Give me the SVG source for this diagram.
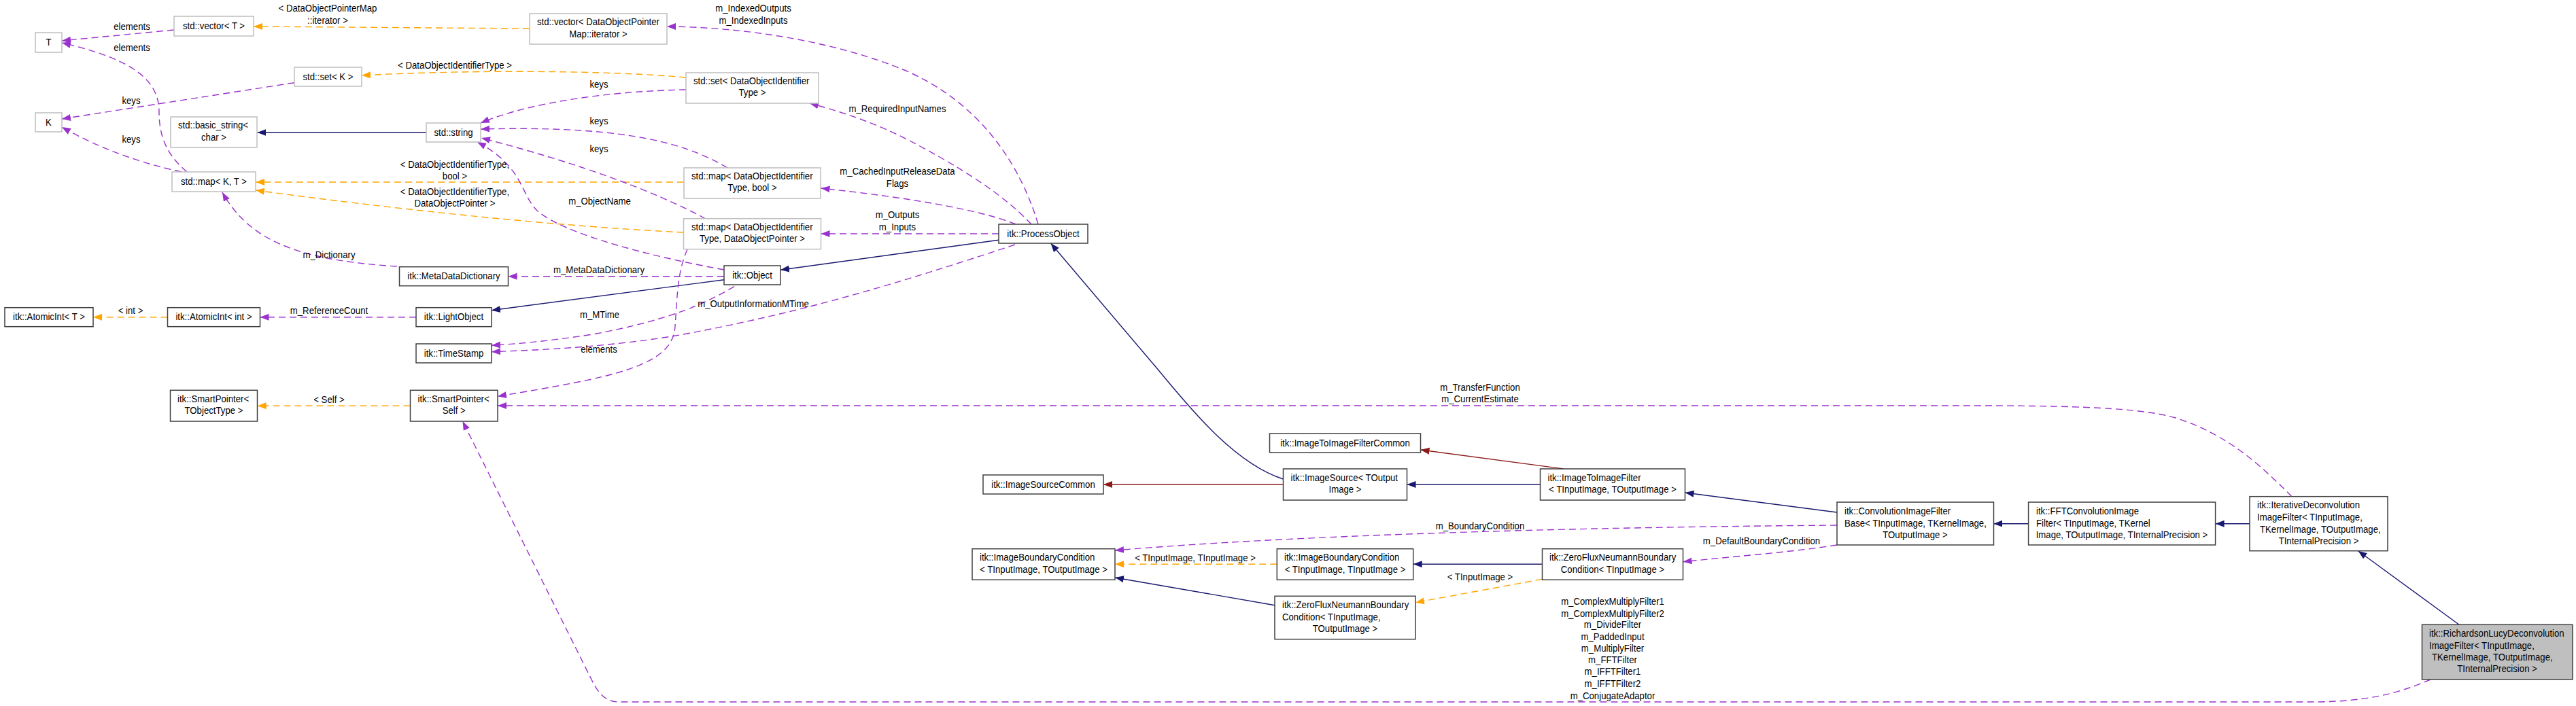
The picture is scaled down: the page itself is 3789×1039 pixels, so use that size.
<svg xmlns="http://www.w3.org/2000/svg" width="3789" height="1039" viewBox="0 0 3789 1039">
<style>
text{font-family:"Liberation Sans",Arial,sans-serif;font-size:14.5px;fill:#000;transform-box:fill-box;transform-origin:left center;transform:scale(0.91,1)}
.c{text-anchor:middle;transform-origin:center}
.bx{fill:#fff;stroke:#404040;stroke-width:1.5}
.gr{fill:#fff;stroke:#bfbfbf;stroke-width:1.5}
.hl{fill:#bfbfbf;stroke:#404040;stroke-width:1.5}
.e{fill:none;stroke-width:1.4}
.inh{stroke:#191970;marker-end:url(#mInh)}
.prv{stroke:#8b1a1a;marker-end:url(#mPrv)}
.use{stroke:#9a32cd;stroke-dasharray:10,6;marker-end:url(#mUse)}
.tpl{stroke:#ffa500;stroke-dasharray:10,6;marker-end:url(#mTpl)}
</style>
<defs>
<marker id="mInh" markerUnits="userSpaceOnUse" markerWidth="14" markerHeight="12" viewBox="0 0 14 12" refX="13" refY="6" orient="auto"><path d="M0,1 L13,6 L0,11 z" fill="#191970"/></marker>
<marker id="mPrv" markerUnits="userSpaceOnUse" markerWidth="14" markerHeight="12" viewBox="0 0 14 12" refX="13" refY="6" orient="auto"><path d="M0,1 L13,6 L0,11 z" fill="#8b1a1a"/></marker>
<marker id="mUse" markerUnits="userSpaceOnUse" markerWidth="14" markerHeight="12" viewBox="0 0 14 12" refX="13" refY="6" orient="auto"><path d="M0,1 L13,6 L0,11 z" fill="#9a32cd"/></marker>
<marker id="mTpl" markerUnits="userSpaceOnUse" markerWidth="14" markerHeight="12" viewBox="0 0 14 12" refX="13" refY="6" orient="auto"><path d="M0,1 L13,6 L0,11 z" fill="#ffa500"/></marker>
</defs>
<rect x="0" y="0" width="3789" height="1039" fill="#fff"/>

<g id="connectors">
<path class="e use" d="M256,44 L91,60"/>
<path class="e use" d="M275,253 C245,228 234,200 234,165 C234,120 200,88 91,63"/>
<path class="e use" d="M433,121.7 L91,175"/>
<path class="e use" d="M267,253 Q170,232 91,187"/>
<path class="e inh" d="M627,195 L378.4,195"/>
<path class="e tpl" d="M779,42 L373,39"/>
<path class="e tpl" d="M1009,114 C900,104 700,102 532,111"/>
<path class="e tpl" d="M1006,268 L376,268"/>
<path class="e tpl" d="M1005.5,342 C800,332 560,305 376,280"/>
<path class="e use" d="M1009,132 C900,134 780,150 707,181"/>
<path class="e use" d="M1070,247 C1000,205 900,185 707,190"/>
<path class="e use" d="M1038,322 C960,280 850,240 708,203"/>
<path class="e use" d="M1065,397 C960,378 830,345 790,310 C765,285 770,245 702,209"/>
<path class="e use" d="M600,393 C450,385 370,360 327,283"/>
<path class="e use" d="M1065,406.7 L747.5,406.7"/>
<path class="e inh" d="M1065,411.7 L723,456.7"/>
<path class="e use" d="M612,466.7 L382.5,466.7"/>
<path class="e tpl" d="M246.5,466.7 L137,466.7"/>
<path class="e use" d="M1080,421.7 C1040,445 990,470 872,492 C800,503 760,506 723,508.3"/>
<path class="e use" d="M1493,360 C1312,420 1178,460 1000,493 C900,510 800,515 723,517.7"/>
<path class="e use" d="M1011,367 C996,400 996,440 993,480 C990,540 900,555 732,583.3"/>
<path class="e inh" d="M1469,353.3 L1148,397.3"/>
<path class="e use" d="M1527,330 C1500,240 1440,150 1330,103 C1230,62 1100,40 981,39"/>
<path class="e use" d="M1517,330 C1470,280 1400,240 1340,208 C1290,182 1240,165 1191,152"/>
<path class="e use" d="M1494,330 C1440,308 1330,290 1207.5,277"/>
<path class="e use" d="M1469,344 L1207.5,344"/>
<path class="e tpl" d="M603.5,597.3 L378.6,597.3"/>
<path class="e use" d="M3371,730.7 C3330,690 3280,640 3200,615 C3150,600 3050,597 2900,597 L732,597"/>
<path class="e use" d="M3575,1000 C3530,1020 3480,1033 3400,1033 L910,1033 C890,1033 880,1020 870,1000 L680.5,620"/>
<path class="e inh" d="M1887.5,705 C1810,680 1740,587 1700,540 L1545.5,358"/>
<path class="e prv" d="M1887.5,713 L1623,713"/>
<path class="e inh" d="M2265.5,713 L2069.5,713"/>
<path class="e prv" d="M2300,690 L2089.5,662"/>
<path class="e inh" d="M2702,754 L2478.5,725"/>
<path class="e use" d="M2702,773 C2300,776 1900,788 1640,810"/>
<path class="e inh" d="M2983.6,770.7 L2932.4,770.7"/>
<path class="e use" d="M2702,802 C2640,812 2560,818 2475.6,826.7"/>
<path class="e inh" d="M3309,770.7 L3258.6,770.7"/>
<path class="e inh" d="M3617,919.3 L3468.6,810.7"/>
<path class="e tpl" d="M1878.3,830.3 L1640,830.3"/>
<path class="e inh" d="M2268.5,830.3 L2078.7,830.3"/>
<path class="e tpl" d="M2268.5,852.3 L2082,886.7"/>
<path class="e inh" d="M1875,890.7 L1640,850"/>
<g id="edge-labels">
<text class="c" x="194" y="44">elements</text>
<text class="c" x="194" y="75.5">elements</text>
<text class="c" x="193" y="153">keys</text>
<text class="c" x="193" y="210">keys</text>
<text class="c" x="482" y="17.5">&lt; DataObjectPointerMap</text>
<text class="c" x="482" y="35.5">::iterator &gt;</text>
<text class="c" x="669" y="101.5">&lt; DataObjectIdentifierType &gt;</text>
<text class="c" x="669" y="247.5">&lt; DataObjectIdentifierType,</text>
<text class="c" x="669" y="264">bool &gt;</text>
<text class="c" x="669" y="287.5">&lt; DataObjectIdentifierType,</text>
<text class="c" x="669" y="304">DataObjectPointer &gt;</text>
<text class="c" x="1108" y="17.5">m_IndexedOutputs</text>
<text class="c" x="1108" y="35.5">m_IndexedInputs</text>
<text class="c" x="881" y="129.5">keys</text>
<text class="c" x="881" y="183.5">keys</text>
<text class="c" x="881" y="224.5">keys</text>
<text class="c" x="882" y="301.5">m_ObjectName</text>
<text class="c" x="1320" y="165">m_RequiredInputNames</text>
<text class="c" x="1320" y="257.5">m_CachedInputReleaseData</text>
<text class="c" x="1320" y="275.5">Flags</text>
<text class="c" x="1320" y="321.5">m_Outputs</text>
<text class="c" x="1320" y="339.5">m_Inputs</text>
<text class="c" x="881" y="402">m_MetaDataDictionary</text>
<text class="c" x="484" y="380">m_Dictionary</text>
<text class="c" x="1108" y="452.5">m_OutputInformationMTime</text>
<text class="c" x="882" y="468">m_MTime</text>
<text class="c" x="881" y="519">elements</text>
<text class="c" x="484" y="462">m_ReferenceCount</text>
<text class="c" x="192" y="462">&lt; int &gt;</text>
<text class="c" x="484" y="593">&lt; Self &gt;</text>
<text class="c" x="2177" y="575.5">m_TransferFunction</text>
<text class="c" x="2177" y="592.5">m_CurrentEstimate</text>
<text class="c" x="2177" y="779.5">m_BoundaryCondition</text>
<text class="c" x="1758" y="826">&lt; TInputImage, TInputImage &gt;</text>
<text class="c" x="2177" y="854">&lt; TInputImage &gt;</text>
<text class="c" x="2591" y="801.5">m_DefaultBoundaryCondition</text>
<text class="c" x="2372" y="890">m_ComplexMultiplyFilter1</text>
<text class="c" x="2372" y="907.7">m_ComplexMultiplyFilter2</text>
<text class="c" x="2372" y="924.3">m_DivideFilter</text>
<text class="c" x="2372" y="941.7">m_PaddedInput</text>
<text class="c" x="2372" y="959.3">m_MultiplyFilter</text>
<text class="c" x="2372" y="976.3">m_FFTFilter</text>
<text class="c" x="2372" y="993.3">m_IFFTFilter1</text>
<text class="c" x="2372" y="1011.3">m_IFFTFilter2</text>
<text class="c" x="2372" y="1029">m_ConjugateAdaptor</text>
</g>
</g>

<g id="node-T"><rect class="gr" x="52" y="48" width="39" height="29"/><text class="c" x="71.5" y="67.2">T</text></g>
<g id="node-K"><rect class="gr" x="52" y="166" width="39" height="28"/><text class="c" x="71.5" y="184.7">K</text></g>
<g id="node-vectorT"><rect class="gr" x="256" y="24" width="117" height="29"/><text class="c" x="314.5" y="43.2">std::vector&lt; T &gt;</text></g>
<g id="node-setK"><rect class="gr" x="433" y="99" width="99" height="28"/><text class="c" x="482.5" y="117.7">std::set&lt; K &gt;</text></g>
<g id="node-basicstring"><rect class="gr" x="251" y="172" width="127" height="45"/><text x="262" y="189">std::basic_string&lt;</text><text class="c" x="314.5" y="207">char &gt;</text></g>
<g id="node-mapKT"><rect class="gr" x="253" y="253" width="123" height="29"/><text class="c" x="314.5" y="272.2">std::map&lt; K, T &gt;</text></g>
<g id="node-string"><rect class="gr" x="627" y="181" width="80" height="28"/><text class="c" x="667" y="199.7">std::string</text></g>
<g id="node-vectorDOPM"><rect class="gr" x="779" y="20" width="202" height="45"/><text x="790" y="37.4">std::vector&lt; DataObjectPointer</text><text class="c" x="880" y="55.4">Map::iterator &gt;</text></g>
<g id="node-setDOI"><rect class="gr" x="1009" y="107" width="195" height="45"/><text x="1020" y="124">std::set&lt; DataObjectIdentifier</text><text class="c" x="1106.5" y="141.4">Type &gt;</text></g>
<g id="node-mapDOIbool"><rect class="gr" x="1006" y="247" width="201" height="45"/><text x="1017" y="264">std::map&lt; DataObjectIdentifier</text><text class="c" x="1106.5" y="281.4">Type, bool &gt;</text></g>
<g id="node-mapDOIDOP"><rect class="gr" x="1005.5" y="321.7" width="202" height="45"/><text x="1017" y="338.7">std::map&lt; DataObjectIdentifier</text><text class="c" x="1106.5" y="356.4">Type, DataObjectPointer &gt;</text></g>
<g id="node-Object"><rect class="bx" x="1065" y="391" width="83" height="28"/><text class="c" x="1106.5" y="409.7">itk::Object</text></g>
<g id="node-ProcessObject"><rect class="bx" x="1469" y="330" width="131" height="28"/><text class="c" x="1534.5" y="348.7">itk::ProcessObject</text></g>
<g id="node-MetaDataDictionary"><rect class="bx" x="587.5" y="392.7" width="160" height="28"/><text class="c" x="667.5" y="411.4">itk::MetaDataDictionary</text></g>
<g id="node-LightObject"><rect class="bx" x="612" y="452.7" width="111" height="28"/><text class="c" x="667.5" y="471.4">itk::LightObject</text></g>
<g id="node-TimeStamp"><rect class="bx" x="612" y="506" width="111" height="28"/><text class="c" x="667.5" y="524.7">itk::TimeStamp</text></g>
<g id="node-SmartPointerSelf"><rect class="bx" x="603.5" y="574.3" width="128.5" height="45.7"/><text x="614.5" y="592.4">itk::SmartPointer&lt;</text><text class="c" x="667.7" y="609">Self &gt;</text></g>
<g id="node-SmartPointerT"><rect class="bx" x="250.5" y="574.3" width="128" height="45.7"/><text x="261" y="592.4">itk::SmartPointer&lt;</text><text class="c" x="314.5" y="609">TObjectType &gt;</text></g>
<g id="node-AtomicIntT"><rect class="bx" x="7" y="452.7" width="130" height="28"/><text class="c" x="72" y="471.4">itk::AtomicInt&lt; T &gt;</text></g>
<g id="node-AtomicIntInt"><rect class="bx" x="246.5" y="452.7" width="136" height="28"/><text class="c" x="314.5" y="471.4">itk::AtomicInt&lt; int &gt;</text></g>
<g id="node-ImageToImageFilterCommon"><rect class="bx" x="1867.5" y="638" width="222" height="28"/><text class="c" x="1978.5" y="656.7">itk::ImageToImageFilterCommon</text></g>
<g id="node-ImageSourceCommon"><rect class="bx" x="1446" y="699" width="177" height="28"/><text class="c" x="1534.5" y="717.7">itk::ImageSourceCommon</text></g>
<g id="node-ImageSource"><rect class="bx" x="1887.5" y="690" width="182" height="46"/><text x="1898.5" y="708">itk::ImageSource&lt; TOutput</text><text class="c" x="1978.5" y="725.5">Image &gt;</text></g>
<g id="node-ImageToImageFilter"><rect class="bx" x="2265.5" y="690" width="213" height="46"/><text x="2276.5" y="708">itk::ImageToImageFilter</text><text class="c" x="2372" y="725.5">&lt; TInputImage, TOutputImage &gt;</text></g>
<g id="node-ConvolutionImageFilterBase"><rect class="bx" x="2702" y="739" width="230.5" height="63"/><text x="2713" y="757.4">itk::ConvolutionImageFilter</text><text x="2713" y="774.7">Base&lt; TInputImage, TKernelImage,</text><text class="c" x="2817" y="792">TOutputImage &gt;</text></g>
<g id="node-FFTConvolutionImageFilter"><rect class="bx" x="2983.6" y="739" width="275" height="63"/><text x="2995" y="757.4">itk::FFTConvolutionImage</text><text x="2995" y="774.7">Filter&lt; TInputImage, TKernel</text><text class="c" x="3121" y="792">Image, TOutputImage, TInternalPrecision &gt;</text></g>
<g id="node-IterativeDeconvolution"><rect class="bx" x="3309" y="730.7" width="203" height="80"/><text x="3320" y="748">itk::IterativeDeconvolution</text><text x="3320" y="765.7">ImageFilter&lt; TInputImage,</text><text x="3324" y="783.7">TKernelImage, TOutputImage,</text><text class="c" x="3410.5" y="800.7">TInternalPrecision &gt;</text></g>
<g id="node-RichardsonLucy"><rect class="hl" x="3562.5" y="919.3" width="221.5" height="80.7"/><text x="3573" y="937.4">itk::RichardsonLucyDeconvolution</text><text x="3573" y="955.4">ImageFilter&lt; TInputImage,</text><text x="3577" y="972">TKernelImage, TOutputImage,</text><text class="c" x="3673" y="989">TInternalPrecision &gt;</text></g>
<g id="node-IBC-TI-TO"><rect class="bx" x="1430" y="807.7" width="210" height="45.6"/><text x="1441" y="825.4">itk::ImageBoundaryCondition</text><text class="c" x="1535" y="843.4">&lt; TInputImage, TOutputImage &gt;</text></g>
<g id="node-IBC-TI-TI"><rect class="bx" x="1878.3" y="807.7" width="200.4" height="45.6"/><text x="1889" y="825.4">itk::ImageBoundaryCondition</text><text class="c" x="1978.5" y="843.4">&lt; TInputImage, TInputImage &gt;</text></g>
<g id="node-ZeroFlux-TI"><rect class="bx" x="2268.5" y="807.7" width="207" height="45.6"/><text x="2279" y="825.4">itk::ZeroFluxNeumannBoundary</text><text class="c" x="2372" y="843.4">Condition&lt; TInputImage &gt;</text></g>
<g id="node-ZeroFlux-TI-TO"><rect class="bx" x="1875" y="877.3" width="207" height="63.4"/><text x="1886" y="895.4">itk::ZeroFluxNeumannBoundary</text><text x="1886" y="913.4">Condition&lt; TInputImage,</text><text class="c" x="1978.5" y="930.4">TOutputImage &gt;</text></g>
</svg>
